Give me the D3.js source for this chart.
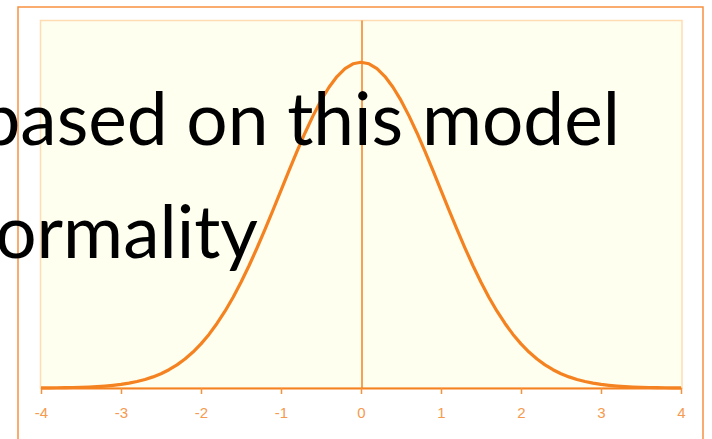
<!DOCTYPE html>
<html>
<head>
<meta charset="utf-8">
<script src="https://cdn.jsdelivr.net/npm/d3@7"></script>
<style>
  html, body { margin: 0; padding: 0; background: #ffffff; }
  svg { display: block; }
</style>
</head>
<body>
<svg id="chart" width="712" height="439"></svg>
<script>
// z values along the horizontal axis
const zValues = [
  -4.0, -3.9, -3.8, -3.7, -3.6, -3.5, -3.4, -3.3, -3.2, -3.1,
  -3.0, -2.9, -2.8, -2.7, -2.6, -2.5, -2.4, -2.3, -2.2, -2.1,
  -2.0, -1.9, -1.8, -1.7, -1.6, -1.5, -1.4, -1.3, -1.2, -1.1,
  -1.0, -0.9, -0.8, -0.7, -0.6, -0.5, -0.4, -0.3, -0.2, -0.1,
   0.0,
   0.1,  0.2,  0.3,  0.4,  0.5,  0.6,  0.7,  0.8,  0.9,  1.0,
   1.1,  1.2,  1.3,  1.4,  1.5,  1.6,  1.7,  1.8,  1.9,  2.0,
   2.1,  2.2,  2.3,  2.4,  2.5,  2.6,  2.7,  2.8,  2.9,  3.0,
   3.1,  3.2,  3.3,  3.4,  3.5,  3.6,  3.7,  3.8,  3.9,  4.0
];

// density of the bell curve at each z value
const densityValues = [
  0.0001, 0.0002, 0.0003, 0.0004, 0.0006, 0.0009, 0.0012, 0.0017, 0.0024, 0.0033,
  0.0044, 0.0060, 0.0079, 0.0104, 0.0136, 0.0175, 0.0224, 0.0283, 0.0355, 0.0440,
  0.0540, 0.0656, 0.0790, 0.0940, 0.1109, 0.1295, 0.1497, 0.1714, 0.1942, 0.2179,
  0.2420, 0.2661, 0.2897, 0.3123, 0.3332, 0.3521, 0.3683, 0.3814, 0.3910, 0.3970,
  0.3989,
  0.3970, 0.3910, 0.3814, 0.3683, 0.3521, 0.3332, 0.3123, 0.2897, 0.2661, 0.2420,
  0.2179, 0.1942, 0.1714, 0.1497, 0.1295, 0.1109, 0.0940, 0.0790, 0.0656, 0.0540,
  0.0440, 0.0355, 0.0283, 0.0224, 0.0175, 0.0136, 0.0104, 0.0079, 0.0060, 0.0044,
  0.0033, 0.0024, 0.0017, 0.0012, 0.0009, 0.0006, 0.0004, 0.0003, 0.0002, 0.0001
];

// axis tick values and their labels
const tickValues = [-4, -3, -2, -1, 0, 1, 2, 3, 4];
const tickLabels = ["-4", "-3", "-2", "-1", "0", "1", "2", "3", "4"];

// overlaid slide text lines
const textLines = ["based on this model", "ormality"];

const svg = d3.select("#chart");

const plot = { left: 41, right: 681, top: 20.5, bottom: 388 };

const x = d3.scaleLinear().domain([-4, 4]).range([plot.left, plot.right]);
const y = d3.scaleLinear().domain([0, 0.45]).range([plot.bottom, plot.top]);

// outer chart frame
svg.append("rect")
  .attr("x", 18).attr("y", 7)
  .attr("width", 685).attr("height", 450)
  .attr("fill", "#ffffff")
  .attr("stroke", "#f7913f")
  .attr("stroke-width", 1.5);

// plot area
svg.append("rect")
  .attr("x", plot.left - 0.5).attr("y", plot.top)
  .attr("width", plot.right - plot.left + 1.5)
  .attr("height", plot.bottom - plot.top)
  .attr("fill", "#fffff0")
  .attr("stroke", "#ffdcb2")
  .attr("stroke-width", 1.5);

// vertical reference line at z = 0
svg.append("line")
  .attr("x1", x(0) + 1).attr("x2", x(0) + 1)
  .attr("y1", plot.top).attr("y2", plot.bottom)
  .attr("stroke", "#f58220")
  .attr("stroke-width", 1.5);

// bottom axis
const axis = d3.axisBottom(x)
  .tickValues(tickValues)
  .tickFormat((d, i) => tickLabels[i])
  .tickSize(6)
  .tickSizeOuter(0)
  .tickPadding(13);

const gAxis = svg.append("g")
  .attr("transform", `translate(0,${plot.bottom})`)
  .call(axis);

gAxis.select(".domain")
  .attr("stroke", "#f58220")
  .attr("stroke-width", 2);
gAxis.selectAll(".tick line")
  .attr("stroke", "#f5923a")
  .attr("stroke-width", 1.5);
gAxis.selectAll(".tick text")
  .attr("fill", "#f59a4e")
  .attr("font-family", "'Liberation Sans', Arial, sans-serif")
  .attr("font-size", 15);

// bell curve
const points = zValues.map((z, i) => ({ z, d: densityValues[i] }));
const line = d3.line()
  .x(p => x(p.z))
  .y(p => y(p.d));

svg.append("path")
  .datum(points)
  .attr("d", line)
  .attr("fill", "none")
  .attr("stroke", "#f58220")
  .attr("stroke-width", 3.2)
  .attr("stroke-linejoin", "round");

// overlaid text
const textFont = "Lato, 'Open Sans', sans-serif";
svg.append("text")
  .attr("x", 620).attr("y", 145)
  .attr("text-anchor", "end")
  .attr("font-family", textFont)
  .attr("font-size", 73)
  .attr("fill", "#000000")
  .text(textLines[0]);

svg.append("text")
  .attr("x", 258).attr("y", 258)
  .attr("text-anchor", "end")
  .attr("font-family", textFont)
  .attr("font-size", 73)
  .attr("fill", "#000000")
  .text(textLines[1]);
</script>
</body>
</html>
